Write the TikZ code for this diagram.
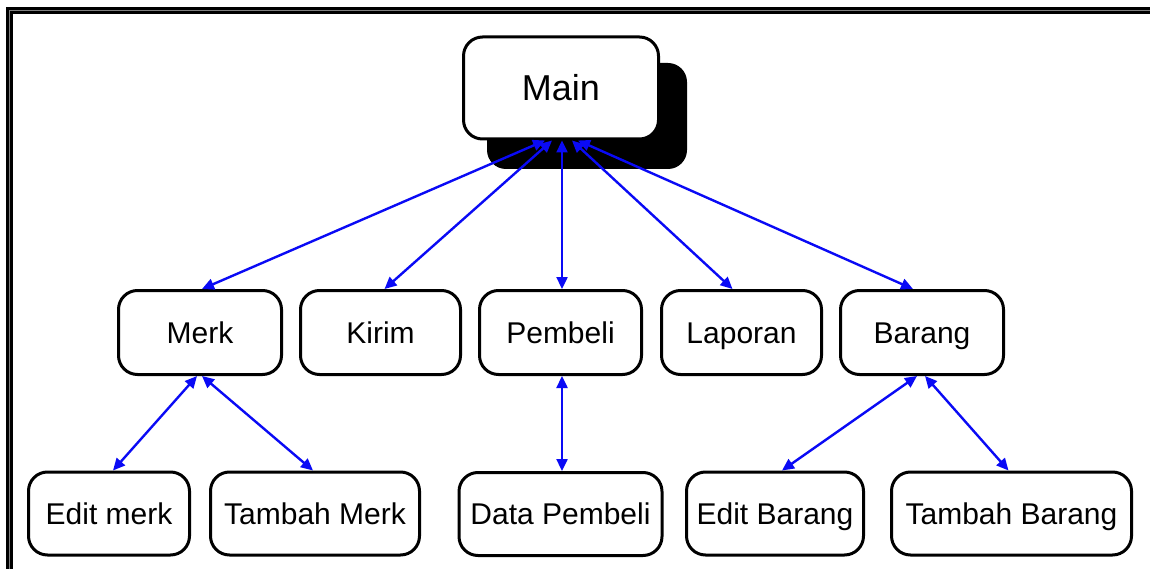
\documentclass[tikz,border=0pt]{standalone}
\usepackage{fontspec}
\setmainfont{Liberation Sans}
\usetikzlibrary{arrows.meta}
\definecolor{linkblue}{RGB}{10,10,245}
\definecolor{framegray}{RGB}{128,128,128}
\tikzset{
  box/.style={draw=black, line width=3pt, fill=white, rounded corners=19pt,
    inner sep=0pt, text height=21.5pt, text depth=0pt,
    font=\fontsize{30}{36}\selectfont},
  shadowbox/.style={fill=black, rounded corners=19pt, inner sep=0pt},
  conn/.style={draw=linkblue, line width=2.4pt,
    {Triangle[length=12pt,width=11pt]}-{Triangle[length=12pt,width=11pt]}},
}
\begin{document}
\begin{tikzpicture}[x=1pt,y=-1pt]
\useasboundingbox (0,0) rectangle (1150,569);
\clip (0,0) rectangle (1150,569);
\fill[white] (0,0) rectangle (1150,569);
% frame
\draw[line width=7pt] (9.5,600) -- (9.5,10.5) -- (1200,10.5);
\draw[framegray, line width=1.2pt] (9.5,600) -- (9.5,10.5) -- (1200,10.5);
% main with shadow
\node[shadowbox, minimum width=200pt, minimum height=106pt] (mainshadow) at (587,116) {};
\node[box, minimum width=195pt, minimum height=102pt, text height=25.5pt,
  font=\fontsize{36}{40}\selectfont] (main) at (561,88) {Main};
% level 2
\node[box, minimum width=163pt, minimum height=84pt] (merk) at (200,332.5) {Merk};
\node[box, minimum width=160pt, minimum height=84pt] (kirim) at (380.5,332.5) {Kirim};
\node[box, minimum width=162pt, minimum height=84pt] (pembeli) at (560.5,332.5) {Pembeli};
\node[box, minimum width=160pt, minimum height=84pt] (laporan) at (741.5,332.5) {Laporan};
\node[box, minimum width=163pt, minimum height=84pt] (barang) at (922,332.5) {Barang};
% level 3
\node[box, minimum width=161pt, minimum height=83pt] (editmerk) at (109,513.5) {Edit merk};
\node[box, minimum width=209pt, minimum height=83pt] (tambahmerk) at (315,513.5) {Tambah Merk};
\node[box, minimum width=203pt, minimum height=83pt] (datapembeli) at (560.5,514) {Data Pembeli};
\node[box, minimum width=177pt, minimum height=83pt] (editbarang) at (775,513.5) {Edit Barang};
\node[box, minimum width=240pt, minimum height=83pt] (tambahbarang) at (1011.5,513.5) {Tambah Barang};
% connectors
\draw[conn] ([xshift=-16pt]main.south) -- ([xshift=2pt]merk.north);
\draw[conn] ([xshift=-9pt]main.south) -- ([xshift=4pt]kirim.north);
\draw[conn] ([xshift=1pt]main.south) -- ([xshift=1.5pt]pembeli.north);
\draw[conn] ([xshift=11pt]main.south) -- ([xshift=-9pt]laporan.north);
\draw[conn] ([xshift=17pt]main.south) -- ([xshift=-9pt]barang.north);
\draw[conn] ([xshift=-3pt]merk.south) -- ([xshift=4pt]editmerk.north);
\draw[conn] ([xshift=2pt]merk.south) -- ([xshift=-2pt]tambahmerk.north);
\draw[conn] ([xshift=1.5pt]pembeli.south) -- ([xshift=1.5pt]datapembeli.north);
\draw[conn] ([xshift=-5pt]barang.south) -- ([xshift=7pt]editbarang.north);
\draw[conn] ([xshift=3pt]barang.south) -- ([xshift=-3pt]tambahbarang.north);
\end{tikzpicture}
\end{document}
